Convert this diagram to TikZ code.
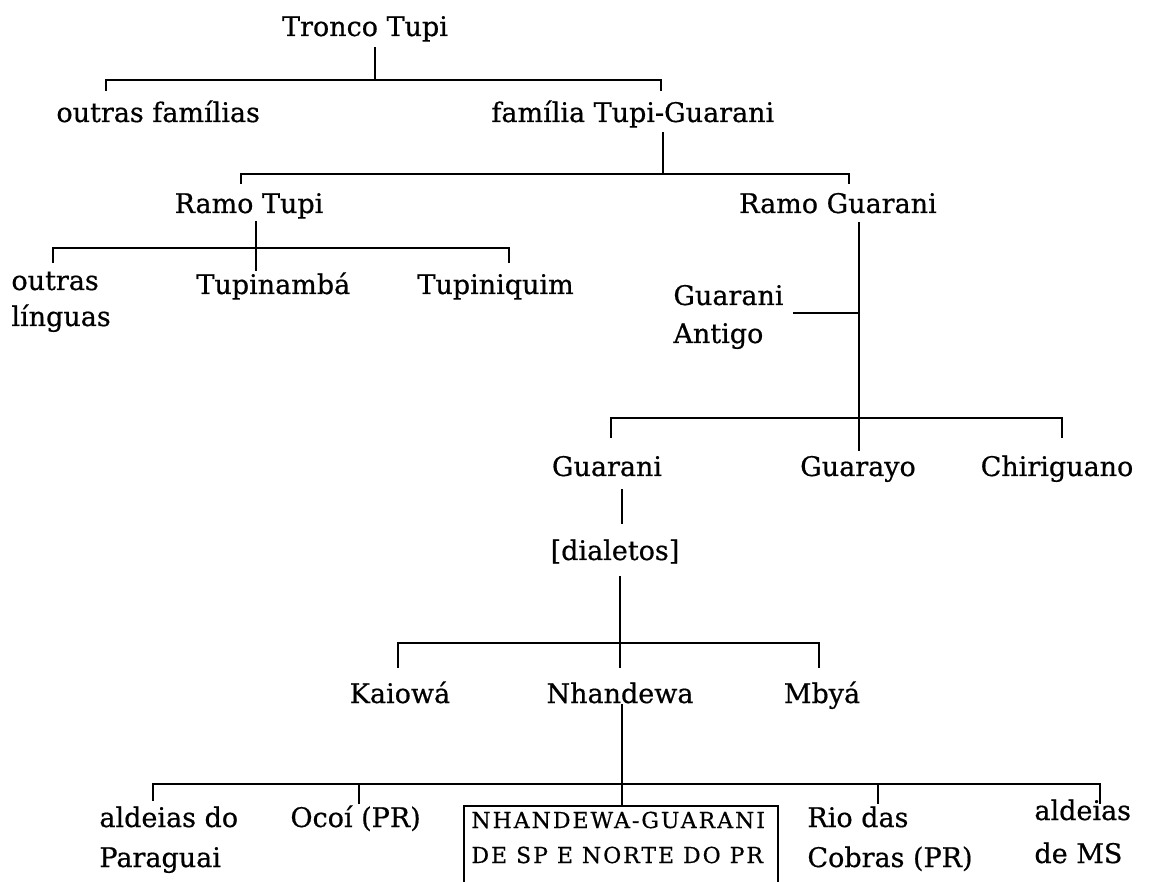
\documentclass[tikz,border=0pt]{standalone}
\usepackage{fontspec}
\setmainfont{DejaVu Serif}
\begin{document}
\begin{tikzpicture}[x=1pt,y=-1pt,line width=2.9pt,line cap=rect,
  lblfont/.style={font=\fontsize{27}{30}\selectfont\addfontfeature{FakeBold=0.6}},
  lbl/.style={anchor=base,inner sep=0pt,lblfont},
  lbll/.style={anchor=base west,inner sep=0pt,lblfont},
  boxtxt/.style={anchor=base west,inner sep=0pt,font=\fontsize{22}{24}\selectfont\addfontfeature{LetterSpace=9,FakeBold=0.6}},
  framebox/.style={draw,line width=2.6pt,line cap=butt}]
\useasboundingbox (0,0) rectangle (1163,882);
% labels
\node[lbl]  (tronco)   at (365,36)  {Tronco Tupi};
\node[lbll] (outrasf)  at (55,122)  {outras famílias};
\node[lbll] (familia)  at (490,122) {família Tupi-Guarani};
\node[lbl]  (ramotupi) at (249,213) {Ramo Tupi};
\node[lbl]  (ramoguar) at (838,213) {Ramo Guarani};
\node[lbll] (outras1)  at (10,290)  {outras};
\node[lbll] (outras2)  at (10,326)  {línguas};
\node[lbll] (tupinamba) at (195,294) {Tupinambá};
\node[lbll] (tupiniq)  at (416,294) {Tupiniquim};
\node[lbll] (gant1)    at (672,305) {Guarani};
\node[lbll] (gant2)    at (672,343) {Antigo};
\node[lbl]  (guarani)  at (607,476) {Guarani};
\node[lbl]  (guarayo)  at (858,476) {Guarayo};
\node[lbl]  (chirig)   at (1057,476) {Chiriguano};
\node[lbl]  (dialetos) at (615,560) {[dialetos]};
\node[lbl]  (kaiowa)   at (400,703) {Kaiowá};
\node[lbl]  (nhandewa) at (620,703) {Nhandewa};
\node[lbl]  (mbya)     at (822,703) {Mbyá};
\node[lbll] (ald1)     at (98,827)  {aldeias do};
\node[lbll] (ald2)     at (98,867)  {Paraguai};
\node[lbll] (ocoi)     at (289,827) {Ocoí (PR)};
\node[lbll] (rio1)     at (806,827) {Rio das};
\node[lbll] (rio2)     at (806,867) {Cobras (PR)};
\node[lbll] (ms1)      at (1033,820) {aldeias};
\node[lbll] (ms2)      at (1033,863) {de MS};
% boxed label
\coordinate (boxtl) at (464,806);
\coordinate (boxbr) at (778,886);
\draw[framebox] (boxtl) rectangle (boxbr);
\node[boxtxt] (nbox1) at (470,828) {NHANDEWA-GUARANI};
\node[boxtxt] (nbox2) at (470,863) {DE SP E NORTE DO PR};
% connector points
\coordinate (t0) at (375,48);   \coordinate (b1m) at (375,80);
\coordinate (b1l) at (106,80);  \coordinate (b1r) at (661,80);
\coordinate (b1lt) at (106,90); \coordinate (b1rt) at (661,90);
\coordinate (f0) at (663,133);  \coordinate (b2m) at (663,174);
\coordinate (b2l) at (241,174); \coordinate (b2r) at (849,174);
\coordinate (b2lt) at (241,183); \coordinate (b2rt) at (849,183);
\coordinate (rt0) at (256,222); \coordinate (rt1) at (256,270);
\coordinate (b3l) at (53,248);  \coordinate (b3r) at (509,248);
\coordinate (b3lt) at (53,262); \coordinate (b3rt) at (509,262);
\coordinate (rg0) at (859,223); \coordinate (rg1) at (859,450);
\coordinate (ga0) at (794,313); \coordinate (ga1) at (859,313);
\coordinate (b4l) at (611,418); \coordinate (b4r) at (1062,418);
\coordinate (b4lt) at (611,437); \coordinate (b4rt) at (1062,437);
\coordinate (gd0) at (622,490); \coordinate (gd1) at (622,523);
\coordinate (d0) at (620,577);  \coordinate (d1) at (620,667);
\coordinate (b5l) at (398,643); \coordinate (b5r) at (819,643);
\coordinate (b5lt) at (398,667); \coordinate (b5rt) at (819,667);
\coordinate (n0) at (622,705);  \coordinate (n1) at (622,806);
\coordinate (b6l) at (153,784); \coordinate (b6r) at (1100,784);
\coordinate (b6lt) at (153,800); \coordinate (b6rt) at (1100,803);
\coordinate (oc0) at (359,784); \coordinate (oc1) at (359,803);
\coordinate (ri0) at (878,784); \coordinate (ri1) at (878,803);
% connectors
\draw (t0) -- (b1m);
\draw (b1lt) -- (b1l) -- (b1r) -- (b1rt);
\draw (f0) -- (b2m);
\draw (b2lt) -- (b2l) -- (b2r) -- (b2rt);
\draw (rt0) -- (rt1);
\draw (b3lt) -- (b3l) -- (b3r) -- (b3rt);
\draw (rg0) -- (rg1);
\draw (ga0) -- (ga1);
\draw (b4lt) -- (b4l) -- (b4r) -- (b4rt);
\draw (gd0) -- (gd1);
\draw (d0) -- (d1);
\draw (b5lt) -- (b5l) -- (b5r) -- (b5rt);
\draw (n0) -- (n1);
\draw (b6lt) -- (b6l) -- (b6r) -- (b6rt);
\draw (oc0) -- (oc1);
\draw (ri0) -- (ri1);
\end{tikzpicture}
\end{document}
